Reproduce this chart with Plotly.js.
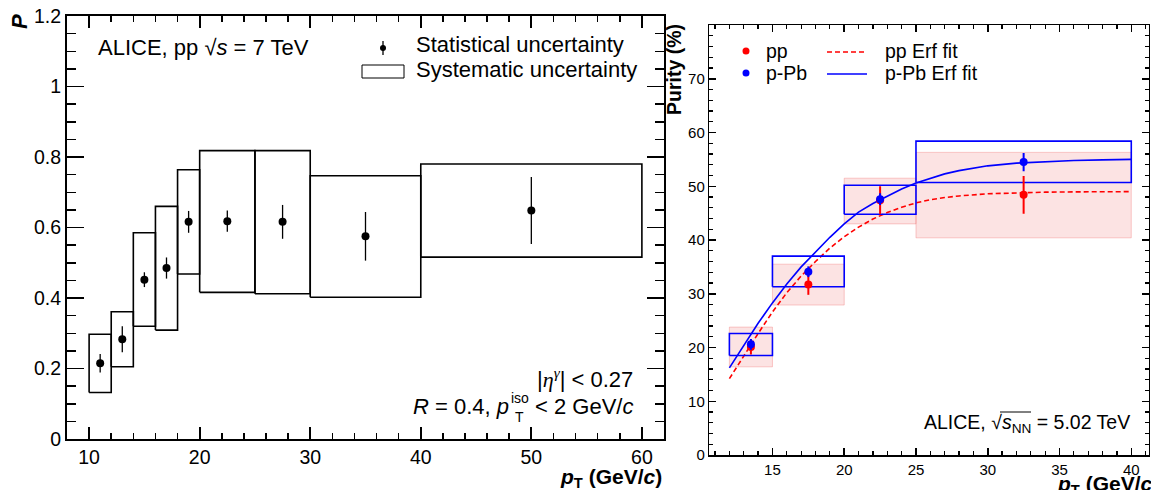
<!DOCTYPE html>
<html>
<head>
<meta charset="utf-8">
<script src="https://cdn.plot.ly/plotly-3.0.1.min.js"></script>
<style>html,body{margin:0;padding:0;background:#fff;}#chart{width:1151px;height:490px;}</style>
</head>
<body>
<div id="chart"></div>
<script>
// ---------- Left panel data (pp, sqrt(s) = 7 TeV) ----------
const lBinX    = [11, 13, 15, 17, 19, 22.5, 27.5, 35, 50];
const lBinLo   = [10, 12, 14, 16, 18, 20, 25, 30, 40];
const lBinHi   = [12, 14, 16, 18, 20, 25, 30, 40, 60];
const lPurity  = [0.215, 0.283, 0.452, 0.485, 0.616, 0.618, 0.616, 0.575, 0.648];
const lStatErr = [0.026, 0.037, 0.021, 0.030, 0.031, 0.030, 0.048, 0.069, 0.095];
const lSysLo   = [0.132, 0.205, 0.320, 0.309, 0.468, 0.416, 0.412, 0.402, 0.516];
const lSysHi   = [0.297, 0.361, 0.585, 0.660, 0.764, 0.818, 0.818, 0.747, 0.780];

// ---------- Right panel data (5.02 TeV) ----------
const rBinX     = [13.5, 17.5, 22.5, 32.5];
const rBinLo    = [12, 15, 20, 25];
const rBinHi    = [15, 20, 25, 40];
const ppPurity  = [20.1, 31.7, 47.4, 48.4];
const ppStat    = [1.4, 1.9, 2.6, 3.5];
const ppSysLo   = [16.4, 27.9, 43.0, 40.4];
const ppSysHi   = [23.8, 35.5, 51.5, 56.3];
const pPbPurity = [20.6, 34.1, 47.6, 54.5];
const pPbStat   = [1.0, 1.0, 1.1, 1.7];
const pPbSysLo  = [18.5, 31.3, 44.8, 50.7];
const pPbSysHi  = [22.6, 37.0, 50.2, 58.4];

// Erf fit curves
const fitX    = [12, 13, 14, 15, 16, 17, 18, 19, 20, 21, 22, 23, 24, 25, 26, 27, 28, 30, 32, 34, 36, 38, 40];
const ppFit   = [14.2, 18.5, 22.6, 26.6, 30.2, 33.3, 36.0, 38.5, 40.6, 42.4, 43.9, 45.1, 46.1, 46.9, 47.5, 47.9, 48.2, 48.6, 48.8, 48.9, 48.95, 49.0, 49.0];
const pPbFit  = [16.2, 20.4, 24.5, 28.3, 31.8, 35.0, 37.8, 40.5, 43.0, 45.2, 46.8, 48.2, 49.5, 50.6, 51.5, 52.3, 52.9, 53.8, 54.3, 54.6, 54.8, 54.9, 55.0];

// ---------- helpers ----------
function boxPath(lo, hi, ylo, yhi) {
  const xs = [], ys = [];
  for (let i = 0; i < lo.length; i++) {
    xs.push(lo[i], hi[i], hi[i], lo[i], lo[i], null);
    ys.push(ylo[i], ylo[i], yhi[i], yhi[i], ylo[i], null);
  }
  return {x: xs, y: ys};
}
const W = 1151, H = 490;
const px = x => x / W;
const py = y => 1 - y / H;
const FONT = '"Liberation Sans", Arial, Helvetica, sans-serif';
const SERIF = "'Liberation Serif', 'Times New Roman', serif";

const lBox = boxPath(lBinLo, lBinHi, lSysLo, lSysHi);
const ppBox = boxPath(rBinLo, rBinHi, ppSysLo, ppSysHi);
const pPbBox = boxPath(rBinLo, rBinHi, pPbSysLo, pPbSysHi);

const traces = [
  {x: lBox.x, y: lBox.y, xaxis: 'x', yaxis: 'y', mode: 'lines', line: {color: 'black', width: 1.6}, hoverinfo: 'skip'},
  {x: lBinX, y: lPurity, xaxis: 'x', yaxis: 'y', mode: 'markers',
   marker: {color: 'black', size: 8},
   error_y: {type: 'data', array: lStatErr, color: 'black', thickness: 1.3, width: 0}},
  // right panel
  {x: ppBox.x, y: ppBox.y, xaxis: 'x2', yaxis: 'y2', mode: 'lines', fill: 'toself',
   fillcolor: 'rgba(240,90,90,0.17)', line: {color: 'rgba(240,110,110,0.35)', width: 1}, hoverinfo: 'skip'},
  {x: fitX, y: ppFit, xaxis: 'x2', yaxis: 'y2', mode: 'lines', line: {color: '#ff0000', width: 1.6, dash: '5px,3px'}},
  {x: fitX, y: pPbFit, xaxis: 'x2', yaxis: 'y2', mode: 'lines', line: {color: '#0000ff', width: 1.6}},
  {x: pPbBox.x, y: pPbBox.y, xaxis: 'x2', yaxis: 'y2', mode: 'lines', line: {color: '#0000ff', width: 1.6}, hoverinfo: 'skip'},
  {x: rBinX, y: ppPurity, xaxis: 'x2', yaxis: 'y2', mode: 'markers',
   marker: {color: '#ff0000', size: 8},
   error_y: {type: 'data', array: ppStat, color: '#ff0000', thickness: 2, width: 0}},
  {x: rBinX, y: pPbPurity, xaxis: 'x2', yaxis: 'y2', mode: 'markers',
   marker: {color: '#0000ff', size: 8},
   error_y: {type: 'data', array: pPbStat, color: '#0000ff', thickness: 2, width: 0}}
];

const ann = (x, y, text, size, xanchor, extra) => Object.assign({
  xref: 'paper', yref: 'paper', x: px(x), y: py(y), text: text, showarrow: false,
  xanchor: xanchor || 'left', yanchor: 'middle', font: {family: FONT, size: size, color: 'black'}
}, extra || {});

const annotations = [
  // left panel
  ann(96, 47, 'ALICE, pp √<i>s</i> = 7 TeV', 22),
  ann(414, 45, 'Statistical uncertainty', 22),
  ann(414, 70, 'Systematic uncertainty', 22),
  ann(635, 378, '|<span style="font-family:' + SERIF + '"><i>η</i><sup><i>γ</i></sup></span>| < 0.27', 22, 'right'),
  ann(511, 406, '<i>R</i> = 0.4, <i>p</i>', 22, 'right'),
  ann(520, 398, 'iso', 14, 'center'),
  ann(519, 417, 'T', 14, 'center'),
  ann(635, 406, '< 2 GeV/<i>c</i>', 22, 'right'),
  ann(664, 478, '<b><i>p</i></b><sub><b>T</b></sub><b> (GeV/<i>c</i>)</b>', 21, 'right'),
  ann(20, 22, '<b><i>P</i></b>', 22, 'center', {textangle: -90}),
  // right panel
  ann(764, 51, 'pp', 19.5),
  ann(764, 73, 'p-Pb', 19.5),
  ann(883, 51, 'pp Erf fit', 19.5),
  ann(883, 73, 'p-Pb Erf fit', 19.5),
  ann(1132, 423, 'ALICE, √<i>s</i><sub>NN</sub> = 5.02 TeV', 19.5, 'right'),
  ann(674, 70, '<b>Purity (%)</b>', 19.5, 'center', {textangle: -90}),
  ann(1055, 485, '<b><i>p</i></b><sub><b>T</b></sub><b> (GeV/<i>c</i>)</b>', 21, 'left')
];

const shapes = [
  // left legend symbols
  {type: 'line', xref: 'paper', yref: 'paper', x0: px(383), x1: px(383), y0: py(41), y1: py(55), line: {color: 'black', width: 1.3}},
  {type: 'circle', xref: 'paper', yref: 'paper', x0: px(380), x1: px(386), y0: py(45), y1: py(51), fillcolor: 'black', line: {color: 'black', width: 0}},
  {type: 'rect', xref: 'paper', yref: 'paper', x0: px(362), x1: px(404), y0: py(65), y1: py(78), line: {color: 'black', width: 1}},
  // right legend symbols
  {type: 'circle', xref: 'paper', yref: 'paper', x0: px(742.5), x1: px(749.5), y0: py(47.5), y1: py(54.5), fillcolor: '#ff0000', line: {width: 0}},
  {type: 'circle', xref: 'paper', yref: 'paper', x0: px(742.5), x1: px(749.5), y0: py(69.5), y1: py(76.5), fillcolor: '#0000ff', line: {width: 0}},
  {type: 'line', xref: 'paper', yref: 'paper', x0: px(827), x1: px(867), y0: py(52), y1: py(52), line: {color: '#ff0000', width: 1.6, dash: '5px,3px'}},
  {type: 'line', xref: 'paper', yref: 'paper', x0: px(827), x1: px(867), y0: py(74), y1: py(74), line: {color: '#0000ff', width: 1.6}},
  // overline of the square root in the right-panel label
  {type: 'line', xref: 'paper', yref: 'paper', x0: px(1000), x1: px(1031), y0: py(412), y1: py(412), line: {color: 'black', width: 1}}
];

const layout = {
  width: W, height: H,
  margin: {l: 0, r: 0, t: 0, b: 0},
  paper_bgcolor: 'white', plot_bgcolor: 'white',
  showlegend: false,
  font: {family: FONT, color: 'black'},
  xaxis: {
    domain: [px(67), px(664)], range: [8, 62], anchor: 'y',
    tick0: 0, dtick: 10, ticks: 'inside', ticklen: 12, tickwidth: 1.8, tickcolor: 'black',
    minor: {dtick: 2, ticklen: 6, tickwidth: 1.5, tickcolor: 'black', ticks: 'inside'},
    mirror: 'allticks', showline: true, linewidth: 2, linecolor: 'black',
    showgrid: false, zeroline: false, tickfont: {size: 19.5, family: FONT}
  },
  yaxis: {
    domain: [py(439), py(16)], range: [0, 1.2], anchor: 'x',
    tick0: 0, dtick: 0.2, ticks: 'inside', ticklen: 17, tickwidth: 1.8, tickcolor: 'black',
    minor: {dtick: 0.05, ticklen: 9, tickwidth: 1.5, tickcolor: 'black', ticks: 'inside'},
    mirror: 'allticks', showline: true, linewidth: 2, linecolor: 'black',
    showgrid: false, zeroline: false, tickfont: {size: 19.5, family: FONT}
  },
  xaxis2: {
    domain: [px(709.3), px(1148.5)], range: [10.6, 41.2], anchor: 'y2',
    tick0: 0, dtick: 5, ticks: 'inside', ticklen: 7, tickwidth: 1.5, tickcolor: 'black',
    minor: {dtick: 1, ticklen: 4, tickwidth: 1.2, tickcolor: 'black', ticks: 'inside'},
    mirror: 'allticks', showline: true, linewidth: 1.5, linecolor: 'black',
    showgrid: false, zeroline: false, tickfont: {size: 15, family: FONT}, ticklabelstandoff: 0
  },
  yaxis2: {
    domain: [py(455), py(25)], range: [0, 80], anchor: 'x2',
    tickmode: 'array', tickvals: [0, 10, 20, 30, 40, 50, 60, 70],
    ticks: 'inside', ticklen: 7, tickwidth: 1.5, tickcolor: 'black',
    minor: {tickmode: 'linear', tick0: 0, dtick: 2, ticklen: 4, tickwidth: 1.2, tickcolor: 'black', ticks: 'inside'},
    mirror: 'allticks', showline: true, linewidth: 1.5, linecolor: 'black',
    showgrid: false, zeroline: false, tickfont: {size: 15, family: FONT}
  },
  annotations: annotations,
  shapes: shapes
};

Plotly.newPlot('chart', traces, layout, {displayModeBar: false, staticPlot: true});
</script>
</body>
</html>
